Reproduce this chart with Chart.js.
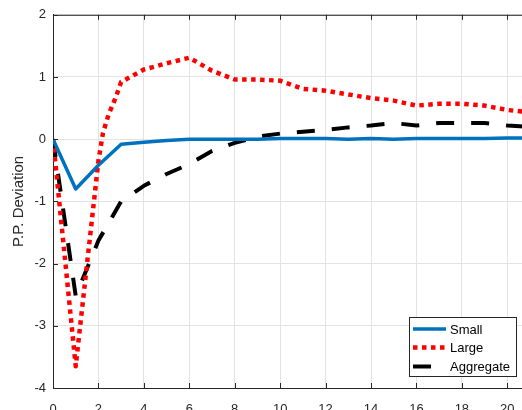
<!DOCTYPE html>
<html>
<head>
<meta charset="utf-8">
<script src="https://cdn.jsdelivr.net/npm/chart.js@4.4.1/dist/chart.umd.min.js"></script>
<style>
  html, body { margin: 0; padding: 0; background: #fff; overflow: hidden; }
  #wrap { width: 540px; height: 410px; }
</style>
</head>
<body>
<div id="wrap"><canvas id="irfChart" width="540" height="410"></canvas></div>
<script>
// Periods and responses
const periods = [0, 1, 2, 3, 4, 5, 6, 7, 8, 9, 10, 11, 12, 13, 14, 15, 16, 17, 18, 19, 20, 21];
const smallValues = [0, -0.8, -0.42, -0.08, -0.05, -0.02, 0, 0, 0, 0, 0.01, 0.01, 0.01, 0, 0.01, 0, 0.01, 0.01, 0.01, 0.01, 0.02, 0.02];
const aggregateValues = [0, -2.52, -1.63, -1.0, -0.75, -0.56, -0.4, -0.19, -0.06, 0.04, 0.09, 0.12, 0.15, 0.19, 0.22, 0.26, 0.22, 0.26, 0.26, 0.26, 0.22, 0.2];
const largePeriods = [0, 1, 2, 2.2, 2.45, 2.75, 3, 4, 5, 6, 7, 8, 9, 10, 11, 12, 13, 14, 15, 16, 17, 18, 19, 20, 21];
const largeValues = [0, -3.65, -0.35, 0.1, 0.4, 0.66, 0.92, 1.12, 1.22, 1.31, 1.1, 0.96, 0.96, 0.94, 0.81, 0.78, 0.72, 0.66, 0.62, 0.54, 0.57, 0.57, 0.54, 0.47, 0.43];

const xTicks = [0, 2, 4, 6, 8, 10, 12, 14, 16, 18, 20];
const yTicks = [-4, -3, -2, -1, 0, 1, 2];
const yTitle = "P.P. Deviation";

const axisColor = "#262626";
const fontFamily = "'Liberation Sans', Arial, sans-serif";

function toPoints(xs, ys) {
    return xs.map((x, i) => ({ x: x, y: ys[i] }));
}

// Draws the box, inward ticks, the y title and the legend (MATLAB look)
const matlabAxes = {
    id: "matlabAxes",
    afterDatasetsDraw(chart) {
        const ctx = chart.ctx;
        const area = chart.chartArea;
        const xs = chart.scales.x;
        const ys = chart.scales.y;

        ctx.save();
        ctx.strokeStyle = axisColor;
        ctx.lineWidth = 1;
        ctx.beginPath();
        ctx.moveTo(area.left, area.top + 0.5);
        ctx.lineTo(area.right, area.top + 0.5);
        xTicks.forEach(t => {
            const px = Math.round(xs.getPixelForValue(t)) + 0.5;
            ctx.moveTo(px, area.bottom);
            ctx.lineTo(px, area.bottom - 5);
            ctx.moveTo(px, area.top);
            ctx.lineTo(px, area.top + 5);
        });
        yTicks.forEach(t => {
            const py = Math.round(ys.getPixelForValue(t)) + 0.5;
            ctx.moveTo(area.left, py);
            ctx.lineTo(area.left + 5, py);
        });
        ctx.stroke();

        // y axis title
        ctx.fillStyle = axisColor;
        ctx.font = "15px " + fontFamily;
        ctx.textAlign = "center";
        ctx.textBaseline = "middle";
        ctx.translate(19, (area.top + area.bottom) / 2);
        ctx.rotate(-Math.PI / 2);
        ctx.fillText(yTitle, 0, 0);
        ctx.restore();

        // legend box
        ctx.save();
        const bx = 409.5, by = 317.5, bw = 107, bh = 59;
        ctx.fillStyle = "#fff";
        ctx.fillRect(bx, by, bw, bh);
        ctx.strokeStyle = axisColor;
        ctx.lineWidth = 1;
        ctx.strokeRect(bx, by, bw, bh);
        ctx.font = "13px " + fontFamily;
        ctx.textAlign = "left";
        ctx.textBaseline = "middle";
        const rows = [329, 347.5, 366.5];
        chart.data.datasets.forEach((ds, i) => {
            const ry = rows[i];
            ctx.save();
            ctx.strokeStyle = ds.borderColor;
            ctx.lineWidth = ds.borderWidth;
            ctx.setLineDash(ds.borderDash || []);
            ctx.beginPath();
            ctx.moveTo(413, ry);
            ctx.lineTo(446, ry);
            ctx.stroke();
            ctx.restore();
            ctx.fillStyle = "#000";
            ctx.fillText(ds.label, 450, ry + 1);
        });
        ctx.restore();
    }
};

const irfChart = new Chart(document.getElementById("irfChart").getContext("2d"), {
    type: "line",
    data: {
        datasets: [
            {
                label: "Small",
                data: toPoints(periods, smallValues),
                borderColor: "#0072BD",
                borderWidth: 3.5,
                borderJoinStyle: "round",
                pointRadius: 0,
                tension: 0
            },
            {
                label: "Large",
                data: toPoints(largePeriods, largeValues),
                borderColor: "#FF0000",
                borderWidth: 4.5,
                borderDash: [4.5, 4.5],
                borderJoinStyle: "round",
                pointRadius: 0,
                tension: 0
            },
            {
                label: "Aggregate",
                data: toPoints(periods, aggregateValues),
                borderColor: "#000000",
                borderWidth: 4,
                borderDash: [18, 17],
                borderJoinStyle: "round",
                pointRadius: 0,
                tension: 0
            }
        ]
    },
    options: {
        responsive: false,
        animation: false,
        layout: { padding: { top: 13, right: 10, left: 0, bottom: 0 } },
        plugins: {
            legend: { display: false },
            tooltip: { enabled: false }
        },
        scales: {
            x: {
                type: "linear",
                min: 0,
                max: 21,
                afterBuildTicks: s => { s.ticks = xTicks.map(v => ({ value: v })); },
                afterFit: s => { s.height = 22; },
                grid: { color: "#e3e3e3", drawTicks: false },
                border: { color: axisColor, width: 1 },
                ticks: { padding: 14, color: axisColor, font: { size: 13, family: fontFamily }, maxRotation: 0 }
            },
            y: {
                min: -4,
                max: 2,
                afterBuildTicks: s => { s.ticks = yTicks.map(v => ({ value: v })); },
                afterFit: s => { s.width = 53; },
                grid: { color: "#e3e3e3", drawTicks: false },
                border: { color: axisColor, width: 1 },
                ticks: { padding: 7, color: axisColor, font: { size: 13, family: fontFamily } }
            }
        }
    },
    plugins: [matlabAxes]
});
</script>
</body>
</html>
